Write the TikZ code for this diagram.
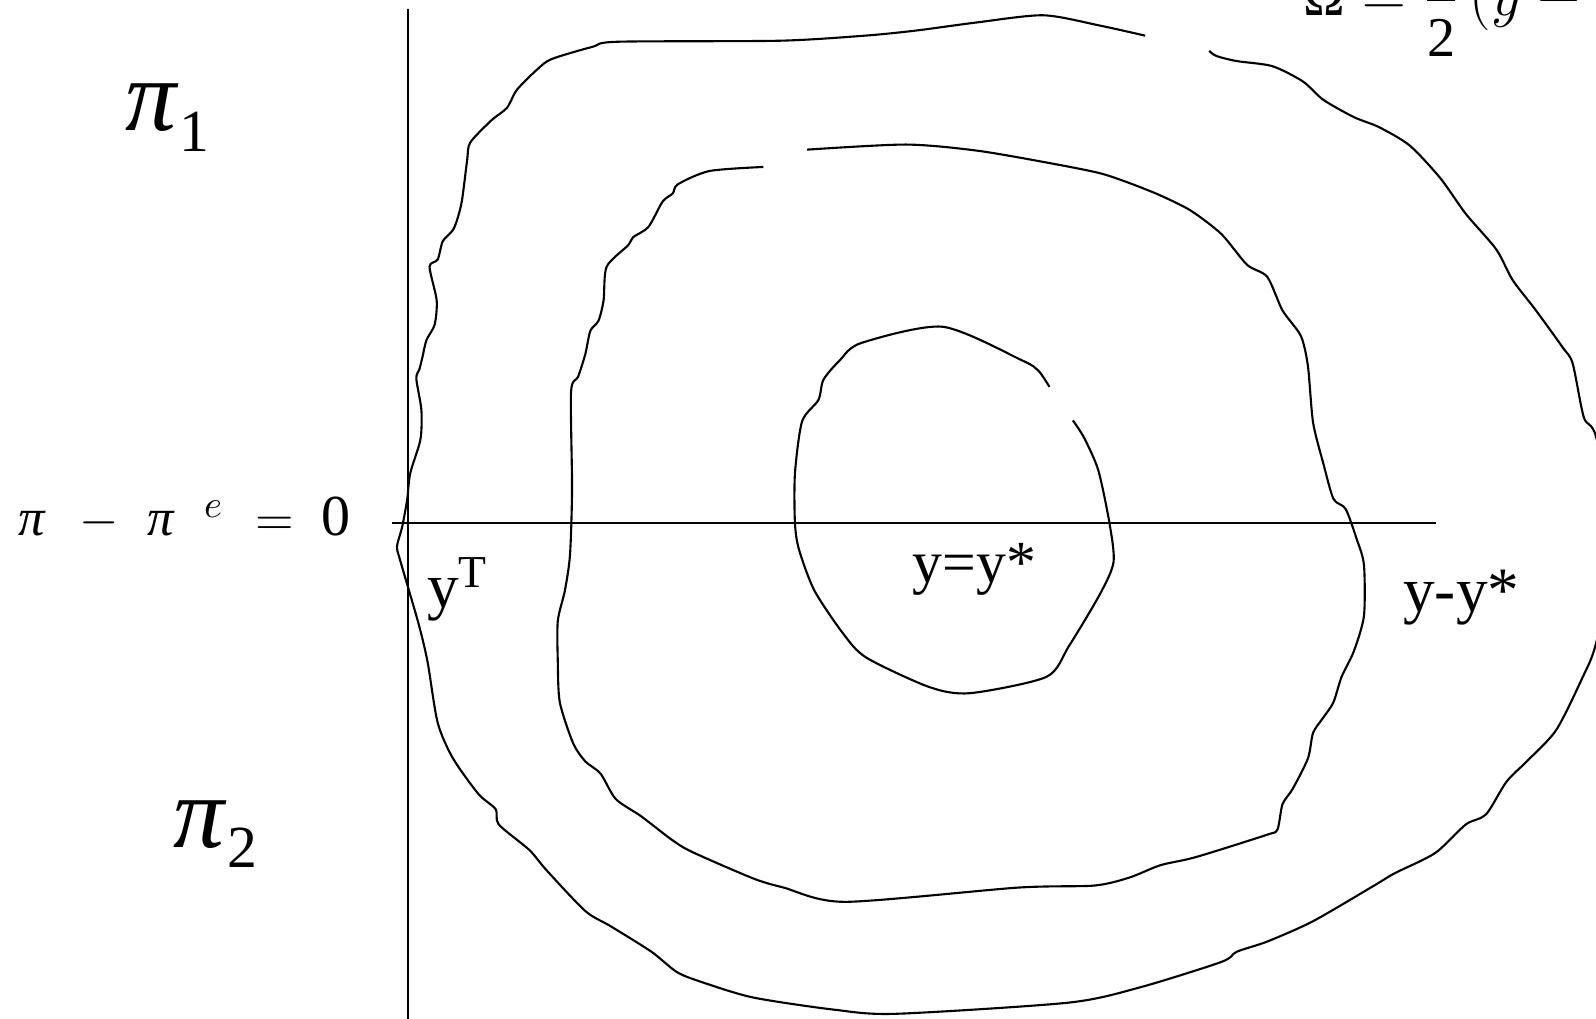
\documentclass[tikz,border=0pt]{standalone}
\usepackage{fontspec}
\usepackage{amsmath}
\setmainfont{Liberation Serif}
\newcommand{\lowsub}[2]{\raisebox{-#1}{\fontsize{17}{17}\selectfont #2}}
\newcommand{\itpi}{\text{\itshape π}}

\begin{document}
\begin{tikzpicture}[
  x=0.10179mm, y=-0.10179mm,
  axis/.style={line width=0.6pt},
  contour/.style={line width=0.6pt, smooth, tension=0.45},
  lbl/.style={inner sep=0pt, anchor=base west}
]
\clip (0,0) rectangle (1568,1001);

\coordinate (vtop) at (401,9);
\coordinate (vbot) at (401,1001);
\coordinate (hleft) at (385,514);
\coordinate (hright) at (1411,514);
\draw[axis] (vtop) -- (vbot);
\draw[axis] (hleft) -- (hright);

\node[lbl, font=\fontsize{29}{30}\selectfont] (pione) at (123,128) {\textit{π}\lowsub{6pt}{1}};
\node[lbl, font=\fontsize{29}{30}\selectfont] (pitwo) at (170,833) {\textit{π}\lowsub{5.5pt}{2}};
\node[lbl, font=\fontsize{15}{18}\selectfont] (vert) at (17,526)
  {$\itpi\hspace{10.1pt}{-}\hspace{7.9pt}\itpi^{\hspace{8.7pt}e}\hspace{9pt}{=}\hspace{7.8pt}\text{\fontsize{16.5}{18}\selectfont 0}$};
\node[lbl, font=\fontsize{18}{20}\selectfont] (ytar) at (419,597) {y\raisebox{5.7pt}{\fontsize{13}{13}\selectfont T}};
\node[lbl, font=\fontsize{17}{20}\selectfont] (ystar) at (896,572) {y=y*};
\node[lbl, font=\fontsize{18}{20}\selectfont] (ygap) at (1378,601) {y-y*};
\node[lbl, font=\fontsize{16}{18}\selectfont] (loss) at (1280,15)
  {$\text{Ω} = \dfrac{\text{1}}{\text{2}}\,(y - y^{*})^{2}$};

\draw[contour] plot coordinates {(1188,50) (1195,55) (1215,60) (1250,65) (1280,80) (1300,98)
  (1330,115) (1355,125) (1385,143) (1415,175) (1440,210) (1470,245) (1486,275) (1509,305)
  (1535,341) (1545,357) (1556,410) (1568,429) (1590,530) (1568,632) (1555,665) (1529,717)
  (1501,747) (1480,768) (1460,800) (1440,810) (1410,838) (1370,858) (1350,870) (1290,905)
  (1245,925) (1215,935) (1200,945) (1120,970) (1050,985) (880,996) (820,992) (740,980)
  (690,965) (665,955) (640,935) (600,910) (575,895) (537,855) (520,835) (490,810) (487,795)
  (470,780) (445,745) (430,710) (420,650) (411,612) (393,550) (390,537) (395,518) (400,491)
  (403,465) (413,432) (414,403) (409,372) (412,363) (415,351) (419,334) (427,319) (429,295)
  (422,262) (430,255) (435,237) (445,226) (450,213) (454,196) (459,157) (462,140) (483,118)
  (498,106) (508,88) (528,68) (542,58) (582,46) (607,41) (766,40) (850,35) (900,30) (960,22)
  (1025,15) (1080,25) (1125,35)};

\draw[contour] plot coordinates {(793,147) (890,142) (960,148) (1030,160) (1080,170) (1110,180)
  (1140,192) (1170,207) (1200,230) (1225,260) (1245,272) (1260,305) (1278,330) (1285,360)
  (1290,415) (1300,455) (1310,490) (1322,500) (1333,530) (1340,555) (1340,605) (1330,640)
  (1318,665) (1310,690) (1300,705) (1290,720) (1285,745) (1270,775) (1260,790) (1255,815)
  (1245,820) (1175,842) (1140,850) (1110,862) (1075,870) (1000,872) (830,886) (770,872)
  (740,863) (680,837) (660,825) (630,802) (605,785) (590,760) (575,748) (563,730) (550,690)
  (548,650) (548,610) (555,580) (560,545) (562,480) (561,385) (568,370) (575,348) (580,325)
  (588,315) (593,295) (596,262) (617,241) (622,233) (637,223) (651,198) (661,190) (666,181)
  (697,168) (750,164)};

\draw[contour] plot coordinates {(1054,413) (1065,430) (1079,462) (1090,514) (1094,552)
  (1081,583) (1050,635) (1028,665) (953,681) (913,675) (851,646) (828,622) (800,580)
  (785,540) (781,514) (781,465) (788,414) (804,393) (809,373) (825,354) (846,337) (926,321)
  (1004,354) (1020,364) (1031,380)};
\end{tikzpicture}
\end{document}
